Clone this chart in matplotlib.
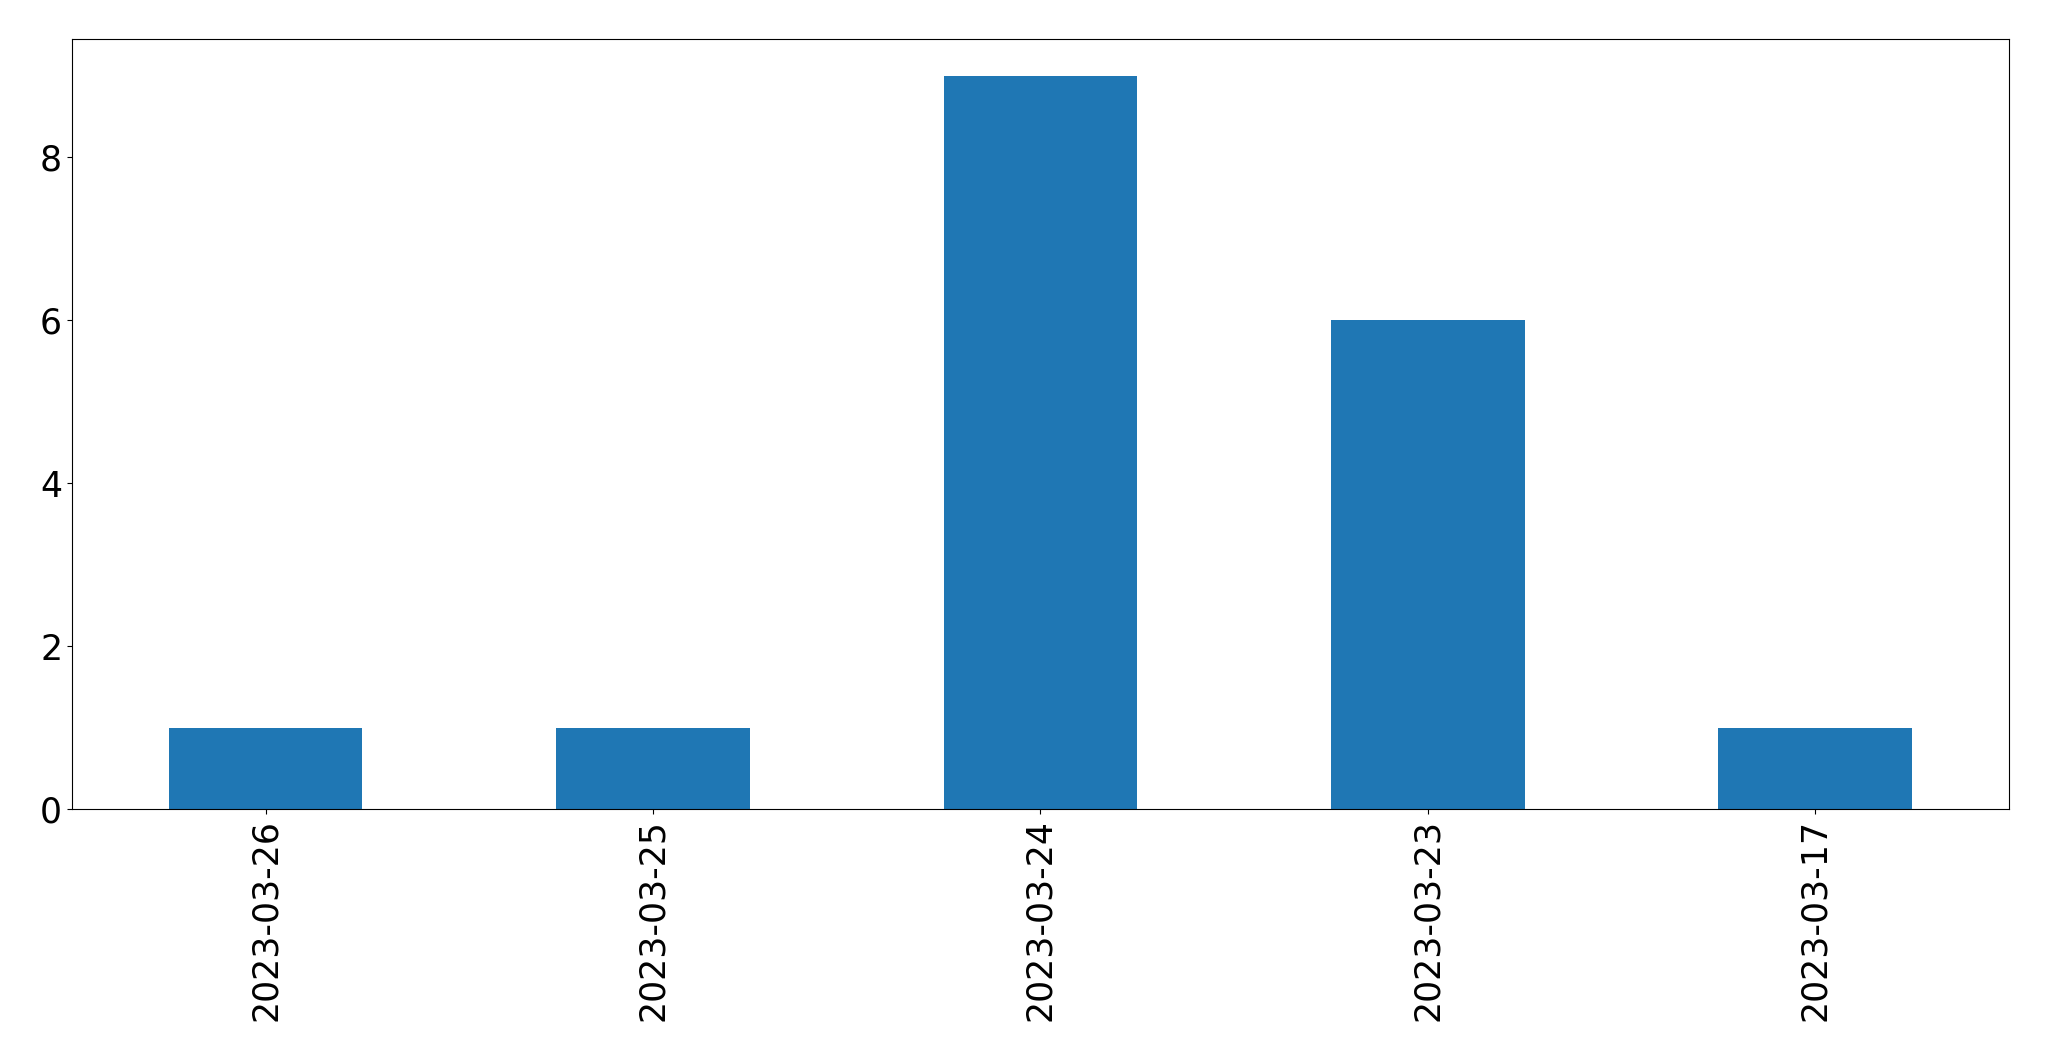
import pandas as pd
import matplotlib
matplotlib.use("Agg")
import matplotlib.pyplot as plt

# =========================
# Data
# =========================
dates = ["2023-03-26", "2023-03-25", "2023-03-24", "2023-03-23", "2023-03-17"]
counts = [1, 1, 9, 6, 1]

s = pd.Series(counts, index=dates)

# =========================
# Plot
# =========================
plt.rcParams["font.size"] = 25
fig = plt.figure(figsize=(20.49, 10.61), dpi=100)
ax = fig.add_subplot(111)
s.plot(kind="bar", ax=ax, color="#1f77b4")

ax.tick_params(axis="both", labelsize=25)
fig.subplots_adjust(left=0.0351, right=0.9805, top=0.9632, bottom=0.2375)

fig.savefig("out.png", dpi=100)
